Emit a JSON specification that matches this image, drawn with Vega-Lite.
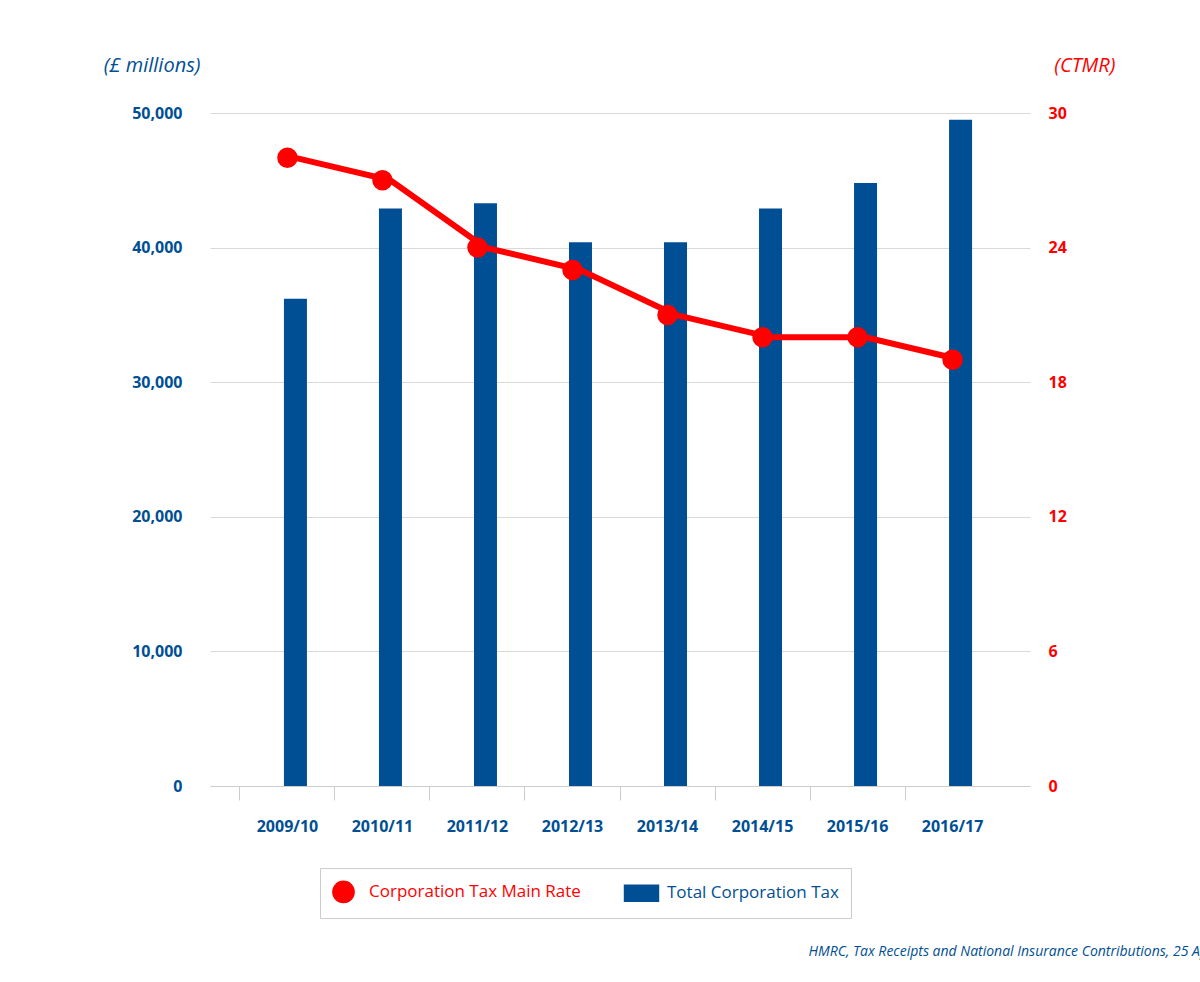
{
"$schema":"https://vega.github.io/schema/vega-lite/v6.json",
"autosize":"none","width":820,"height":673,
"padding":{"left":210,"top":113,"right":170,"bottom":196},
"background":"white",
"config":{"font":"Open Sans","view":{"stroke":null}},
"title":{"text":"HMRC, Tax Receipts and National Insurance Contributions, 25 April 2017","orient":"bottom","anchor":"end","offset":26,"dx":140,"fontSize":14,"fontStyle":"italic","fontWeight":"normal","color":"#004f94"},
"data":{"values":[
{"year":"2009/10","tax":36200,"rate":28},
{"year":"2010/11","tax":42900,"rate":27},
{"year":"2011/12","tax":43300,"rate":24},
{"year":"2012/13","tax":40400,"rate":23},
{"year":"2013/14","tax":40400,"rate":21},
{"year":"2014/15","tax":42900,"rate":20},
{"year":"2015/16","tax":44800,"rate":20},
{"year":"2016/17","tax":49500,"rate":19}]},
"encoding":{"x":{"field":"year","type":"nominal","sort":null,"scale":{"paddingInner":0,"paddingOuter":0.315},
"axis":{"title":null,"labelAngle":0,"labelFontSize":16,"labelFontWeight":"bold","labelColor":"#004f94","labelPadding":18,"bandPosition":0,"tickColor":"#cccccc","tickSize":14,"domainColor":"#cccccc","grid":false}}},
"layer":[
{"mark":{"type":"bar","size":23,"xOffset":8,"color":"#004f94"},
"encoding":{"y":{"field":"tax","type":"quantitative","scale":{"domain":[0,50000]},
"axis":{"title":"(£ millions)","titleAngle":0,"titleAnchor":"end","titleAlign":"right","titleY":-38,"titleX":-10,"titleFontSize":20,"titleFontStyle":"italic","titleFontWeight":"normal","titleColor":"#004f94","labelFontSize":16,"labelFontWeight":"bold","labelColor":"#004f94","labelPadding":28,"values":[0,10000,20000,30000,40000,50000],"ticks":false,"domain":false,"gridColor":"#d9d9d9"}},
"color":{"datum":"Total Corporation Tax","type":"nominal","scale":{"domain":["Corporation Tax Main Rate","Total Corporation Tax"],"range":["#ff0000","#004f94"]},
"legend":{"orient":"none","legendX":110,"legendY":755,"direction":"horizontal","title":null,"strokeColor":"#cccccc","padding":12,"labelFontSize":17,"labelLimit":400,"symbolSize":450,"columnPadding":40,"labelOffset":14,
"encode":{"labels":{"update":{"fill":{"signal":"datum.label == 'Total Corporation Tax' ? '#004f94' : '#ff0000'"}}},
"symbols":{"update":{"shape":{"signal":"datum.value == 'Total Corporation Tax' ? 'M-1.6,-0.75H1.6V0.75H-1.6Z' : 'circle'"}}}}}}}},
{"mark":{"type":"line","xOffset":8,"color":"#ff0000","strokeWidth":6,"point":{"size":420,"filled":true,"color":"#ff0000","opacity":1}},
"encoding":{"y":{"field":"rate","type":"quantitative","scale":{"domain":[0,30]},
"axis":{"orient":"right","title":"(CTMR)","titleAngle":0,"titleAnchor":"end","titleAlign":"right","titleY":-38,"titleX":85,"titleFontSize":20,"titleFontStyle":"italic","titleFontWeight":"normal","titleColor":"#ff0000","labelFontSize":16,"labelFontWeight":"bold","labelColor":"#ff0000","labelPadding":18,"values":[0,6,12,18,24,30],"ticks":false,"domain":false,"grid":false}},
"color":{"datum":"Corporation Tax Main Rate","type":"nominal"}}}
],
"resolve":{"scale":{"y":"independent"}}
}
